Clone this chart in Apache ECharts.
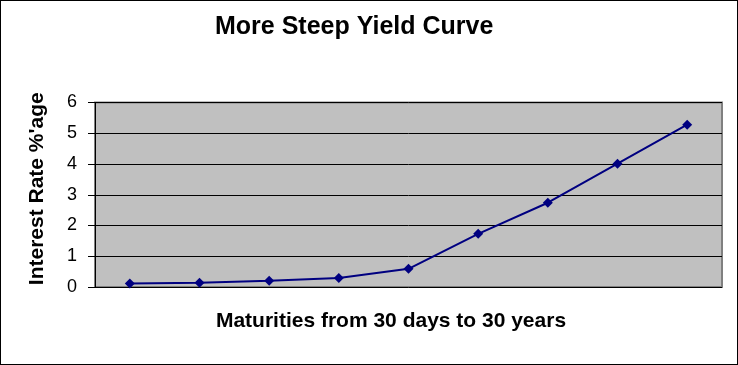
<!DOCTYPE html>
<html><head><meta charset="utf-8">
<script src="https://cdn.jsdelivr.net/npm/echarts@6/dist/echarts.min.js"></script>
<style>html,body{margin:0;padding:0;background:#fff}#c{width:738px;height:365px;box-sizing:border-box;border:1px solid #000}</style>
</head><body><div id="c"></div>
<script>
const categories = ['1','2','3','4','5','6','7','8','9'];
const rates = [0.11, 0.14, 0.2, 0.29, 0.59, 1.73, 2.74, 4.01, 5.28];
const yTicks = [0, 1, 2, 3, 4, 5, 6];

const chart = echarts.init(document.getElementById('c'));
chart.setOption({
  animation: false,
  title: {
    text: 'More Steep Yield Curve',
    left: 209, top: 9,
    textStyle: {fontFamily: 'Liberation Sans, Arial', fontWeight: 'bold', fontSize: 25, color: '#000'}
  },
  grid: {left: 94, top: 101.5, right: 15, bottom: 77, show: true, backgroundColor: '#C0C0C0', borderColor: '#808080', borderWidth: 2},
  xAxis: {
    type: 'category', data: categories, boundaryGap: true,
    name: 'Maturities from 30 days to 30 years', nameLocation: 'middle', nameGap: 24,
    nameTextStyle: {fontFamily: 'Liberation Sans, Arial', fontWeight: 'bold', fontSize: 21, color: '#000', padding: [0, 0, 0, -35]},
    axisLine: {show: false}, axisTick: {show: false}, axisLabel: {show: false}
  },
  yAxis: {
    type: 'value', min: yTicks[0], max: yTicks[yTicks.length - 1], interval: 1,
    name: "Interest Rate %'age", nameLocation: 'middle', nameGap: 47,
    nameTextStyle: {fontFamily: 'Liberation Sans, Arial', fontWeight: 'bold', fontSize: 21, color: '#000', padding: [0, 0, 0, 12]},
    axisLine: {show: true, lineStyle: {color: '#000', width: 1}},
    axisTick: {show: true, inside: false, length: 7, lineStyle: {color: '#000'}},
    axisLabel: {fontFamily: 'Liberation Sans, Arial', fontSize: 18, color: '#000', margin: 18},
    splitLine: {show: true, lineStyle: {color: '#000', width: 1}}
  },
  series: [{
    type: 'line', data: rates,
    symbol: 'diamond', symbolSize: 10,
    lineStyle: {color: '#000080', width: 2},
    itemStyle: {color: '#000080'}
  }]
});
</script></body></html>
